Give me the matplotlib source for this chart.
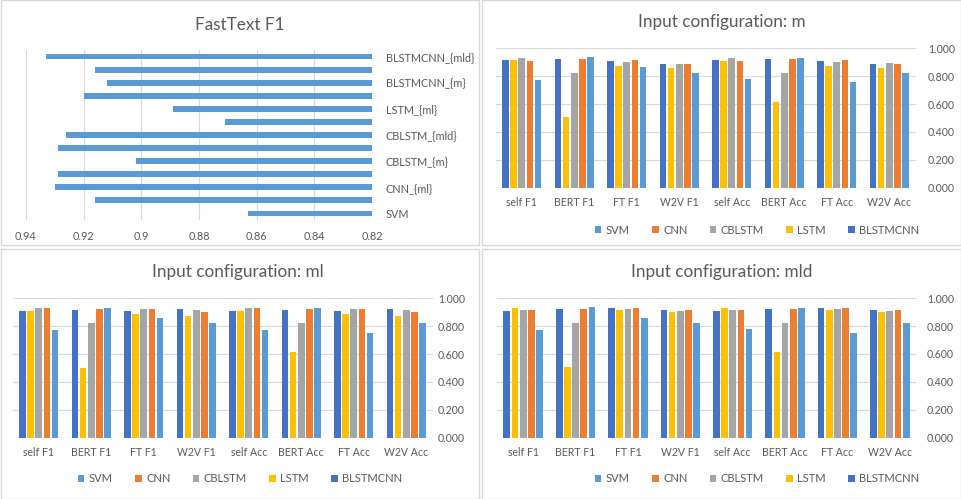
import matplotlib
matplotlib.use("Agg")
import matplotlib.pyplot as plt
from matplotlib.patches import Rectangle
import numpy as np

# FastText F1 (top-left)
ft_models = ['SVM', 'CNN_{m}', 'CNN_{ml}', 'CNN_{mld}', 'CBLSTM_{m}', 'CBLSTM_{ml}', 'CBLSTM_{mld}',
             'LSTM_{m}', 'LSTM_{ml}', 'LSTM_{mld}', 'BLSTMCNN_{m}', 'BLSTMCNN_{ml}', 'BLSTMCNN_{mld}']
ft_f1 = [0.863, 0.916, 0.930, 0.929, 0.902, 0.929, 0.926, 0.871, 0.889, 0.920, 0.912, 0.916, 0.933]
ft_ticks = [0.94, 0.92, 0.9, 0.88, 0.86, 0.84, 0.82]

metrics = ['self F1', 'BERT F1', 'FT F1', 'W2V F1', 'self Acc', 'BERT Acc', 'FT Acc', 'W2V Acc']
models = ['SVM', 'CNN', 'CBLSTM', 'LSTM', 'BLSTMCNN']

# input configuration m
svm_m = [0.774, 0.938, 0.867, 0.824, 0.781, 0.931, 0.760, 0.824]
cnn_m = [0.910, 0.924, 0.917, 0.888, 0.910, 0.924, 0.917, 0.888]
cblstm_m = [0.931, 0.824, 0.902, 0.888, 0.931, 0.824, 0.902, 0.895]
lstm_m = [0.917, 0.510, 0.874, 0.860, 0.910, 0.617, 0.874, 0.860]
blstmcnn_m = [0.917, 0.924, 0.910, 0.888, 0.917, 0.924, 0.910, 0.888]

# input configuration ml
svm_ml = [0.771, 0.929, 0.857, 0.821, 0.771, 0.929, 0.750, 0.821]
cnn_ml = [0.929, 0.921, 0.921, 0.900, 0.929, 0.921, 0.921, 0.900]
cblstm_ml = [0.929, 0.821, 0.921, 0.914, 0.929, 0.821, 0.921, 0.914]
lstm_ml = [0.907, 0.500, 0.886, 0.871, 0.907, 0.614, 0.886, 0.871]
blstmcnn_ml = [0.907, 0.914, 0.907, 0.921, 0.907, 0.914, 0.907, 0.921]

# input configuration mld
svm_mld = [0.771, 0.936, 0.857, 0.821, 0.779, 0.929, 0.750, 0.821]
cnn_mld = [0.914, 0.921, 0.929, 0.914, 0.914, 0.921, 0.929, 0.914]
cblstm_mld = [0.914, 0.821, 0.921, 0.907, 0.914, 0.821, 0.921, 0.907]
lstm_mld = [0.929, 0.507, 0.914, 0.900, 0.929, 0.614, 0.914, 0.900]
blstmcnn_mld = [0.907, 0.921, 0.929, 0.914, 0.907, 0.921, 0.929, 0.914]

colors = {'SVM': '#5B9BD5', 'CNN': '#ED7D31', 'CBLSTM': '#A5A5A5',
          'LSTM': '#FFC000', 'BLSTMCNN': '#4472C4'}
txt = '#595959'
grid = '#D9D9D9'

plt.rcParams['font.family'] = ['Lato', 'DejaVu Sans']

W, H = 961, 499
fig = plt.figure(figsize=(W / 100, H / 100), dpi=100)


def px_axes(x0, y0, x1, y1):
    return fig.add_axes([x0 / W, 1 - y1 / H, (x1 - x0) / W, (y1 - y0) / H])


# panel borders
for (x0, y0, x1, y1) in [(0.5, 0.5, 479, 245), (482, 0.5, 960.5, 245),
                         (0.5, 249, 479, 498.5), (482, 249, 960.5, 498.5)]:
    fig.add_artist(Rectangle((x0 / W, 1 - y1 / H), (x1 - x0) / W, (y1 - y0) / H,
                             transform=fig.transFigure, fill=False,
                             edgecolor=grid, linewidth=1))

# ---- FastText F1 ----
ax = px_axes(26, 50, 372, 220)
y = np.arange(len(ft_models))
ax.barh(y, ft_f1, height=0.45, color='#5B9BD5', zorder=3)
ax.set_xlim(0.94, 0.82)
ax.set_ylim(-0.5, len(ft_models) - 0.5)
ax.set_xticks(ft_ticks)
ax.set_xticklabels(['0.94', '0.92', '0.9', '0.88', '0.86', '0.84', '0.82'])
ax.set_yticks(y[::2])
ax.set_yticklabels(ft_models[::2])
ax.yaxis.tick_right()
ax.tick_params(length=0, labelsize=7.8, labelcolor=txt)
ax.tick_params(axis='y', pad=10)
ax.tick_params(axis='x', pad=8)
ax.grid(axis='x', color=grid, linewidth=0.8, zorder=0)
for s in ax.spines.values():
    s.set_visible(False)
fig.text(240 / W, 1 - 25 / H, 'FastText F1', ha='center', va='center',
         fontsize=12.3, color=txt)


def config_panel(box, title, tcx, tcy, lcx, lcy, ypad, series):
    ax = px_axes(*box)
    x = np.arange(len(metrics))
    order = ['BLSTMCNN', 'LSTM', 'CBLSTM', 'CNN', 'SVM']
    step = 0.156
    handles = {}
    for k, name in enumerate(order):
        b = ax.bar(x + (k - 2) * step, series[name], width=0.128,
                   color=colors[name], zorder=3, label=name)
        handles[name] = b
    ax.set_xlim(-0.5, len(metrics) - 0.5)
    ax.set_ylim(0, 1.0)
    ax.set_yticks(np.arange(0, 1.01, 0.2))
    ax.set_yticklabels(['%.3f' % v for v in np.arange(0, 1.01, 0.2)])
    ax.yaxis.tick_right()
    ax.set_xticks(x)
    ax.set_xticklabels(metrics)
    ax.tick_params(length=0, labelsize=7.6, labelcolor=txt)
    ax.tick_params(axis='y', pad=ypad)
    ax.tick_params(axis='x', pad=7)
    ax.grid(axis='y', color=grid, linewidth=0.8, zorder=0)
    for s in ax.spines.values():
        s.set_visible(False)
    ax.axhline(0, color=grid, linewidth=0.8, zorder=2)
    fig.text(tcx / W, 1 - tcy / H, title, ha='center', va='center',
             fontsize=12.3, color=txt)
    fig.legend([handles[m] for m in models], models, loc='center',
               bbox_to_anchor=(lcx / W, 1 - lcy / H), ncol=5, frameon=False,
               fontsize=8, labelcolor=txt, handlelength=0.6, handleheight=0.6,
               handletextpad=0.4, columnspacing=2.0)


config_panel((495.5, 48.3, 915.5, 187.7), 'Input configuration: m', 722, 22, 757, 230, 9,
             {'SVM': svm_m, 'CNN': cnn_m, 'CBLSTM': cblstm_m,
              'LSTM': lstm_m, 'BLSTMCNN': blstmcnn_m})
config_panel((12.5, 298.3, 432.5, 437.7), 'Input configuration: ml', 238, 272, 240, 479, 4,
             {'SVM': svm_ml, 'CNN': cnn_ml, 'CBLSTM': cblstm_ml,
              'LSTM': lstm_ml, 'BLSTMCNN': blstmcnn_ml})
config_panel((497, 298.3, 916, 437.5), 'Input configuration: mld', 722, 272, 757, 479, 8,
             {'SVM': svm_mld, 'CNN': cnn_mld, 'CBLSTM': cblstm_mld,
              'LSTM': lstm_mld, 'BLSTMCNN': blstmcnn_mld})

fig.savefig('out.png', dpi=100)
